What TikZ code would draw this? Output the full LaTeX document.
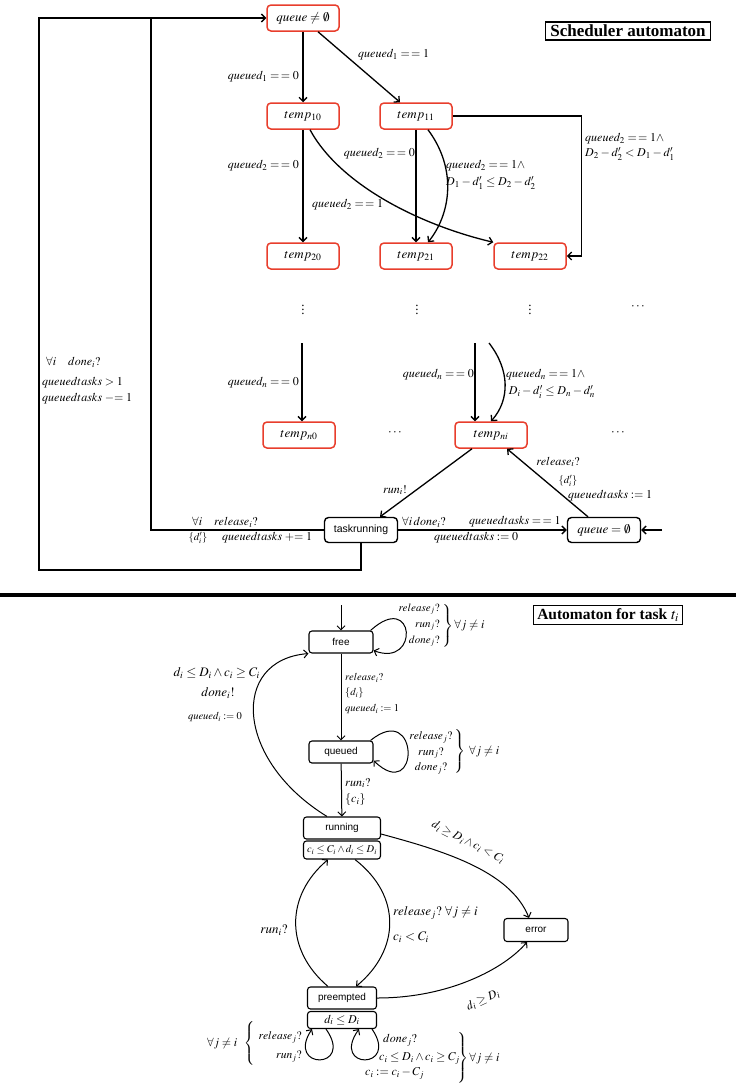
\documentclass[tikz,border=0pt]{standalone}
\usepackage{mathptmx}
\usepackage{fontspec}
\setmainfont{Liberation Serif}
\setsansfont{Liberation Sans}
\usetikzlibrary{arrows.meta}
\definecolor{tempred}{RGB}{232,62,44}

\begin{document}
\begin{tikzpicture}[x=1pt,y=-1pt,>={Straight Barb[length=4pt,width=8pt]},
  temp node/.style={draw=tempred,line width=1.5pt,rounded corners=4pt,minimum width=72pt,
    minimum height=26pt,inner sep=1pt,font=\fontsize{13}{15}\selectfont},
  sched node/.style={draw,line width=1.4pt,rounded corners=4pt,minimum width=73pt,
    minimum height=25pt,inner sep=1pt},
  state node/.style={draw,line width=1.1pt,rounded corners=3pt,minimum width=64pt,
    minimum height=22pt,inner sep=1pt,font=\sffamily\fontsize{10}{12}\selectfont},
  title node/.style={draw,line width=1.2pt,inner xsep=5pt,inner ysep=3pt},
  lbl/.style={font=\fontsize{12}{14}\selectfont,inner sep=0pt},
  small lbl/.style={font=\fontsize{10.5}{12}\selectfont,inner sep=0pt},
  big lbl/.style={font=\fontsize{13}{15}\selectfont,inner sep=0pt}]

  \useasboundingbox (0,0) rectangle (736,1090);

  % scheduler automaton
  \node[temp node] (qne) at (303,18) {$queue\neq\emptyset$};
  \node[temp node] (t10) at (303,116) {$temp_{10}$};
  \node[temp node] (t11) at (416,116) {$temp_{11}$};
  \node[temp node] (t20) at (303,256) {$temp_{20}$};
  \node[temp node] (t21) at (416,256) {$temp_{21}$};
  \node[temp node] (t22) at (530,256) {$temp_{22}$};
  \node[big lbl] (vd0) at (303,307) {$\vdots$};
  \node[big lbl] (vd1) at (417,307) {$\vdots$};
  \node[big lbl] (vd2) at (530,307) {$\vdots$};
  \node[big lbl] (hd0) at (638,307) {$\cdots$};
  \node[temp node] (tn0) at (299,435) {$temp_{n0}$};
  \node[big lbl] (hd1) at (395,433) {$\cdots$};
  \node[temp node] (tni) at (491,435) {$temp_{ni}$};
  \node[big lbl] (hd2) at (618,433) {$\cdots$};
  \node[sched node,font=\sffamily\fontsize{10.5}{12}\selectfont] (trun) at (361,530) {taskrunning};
  \node[sched node,font=\fontsize{13}{15}\selectfont] (qem) at (604,530) {$queue=\emptyset$};
  \node[title node,font=\bfseries\fontsize{17}{19}\selectfont] (stitle) at (628,31) {Scheduler automaton};

  \coordinate (sn0) at (302,343);
  \coordinate (sn1) at (475,343);
  \coordinate (sn2) at (489,343);
  \coordinate (qin) at (662,530);
  \coordinate (lpa) at (151,18);
  \coordinate (lpb) at (39,570);

  \begin{scope}[line width=1.3pt]
    \draw[->] (qne) -- (t10);
    \draw[->] ([xshift=15pt]qne.south) -- ([xshift=-16pt]t11.north);
    \draw[->] (t10) -- (t20);
    \draw[->] ([xshift=7pt]t10.south) .. controls (340,185) and (420,225) .. (t22.north west);
    \draw[->] (t11) -- (t21);
    \draw[->] ([xshift=12pt]t11.south) .. controls (458,170) and (450,215) .. ([xshift=12pt]t21.north);
    \draw[->] (t11.east) -| ([xshift=15pt]t22.east) -- (t22.east);
    \draw[->] (sn0) -- (sn0 |- tn0.north);
    \draw[->] (sn1) -- (sn1 |- tni.north);
    \draw[->] (sn2) .. controls (510,370) and (510,400) .. (tni.north);
    \draw[->] ([xshift=-19pt]tni.south) -- ([xshift=19pt]trun.north);
    \draw[->] ([xshift=-16pt]qem.north) -- ([xshift=16pt]tni.south);
    \draw[->] (trun) -- (qem);
    \draw[->] (qin) -- (qem);
    \draw (trun.west) -| (lpa);
    \draw[->] (trun.south) |- (lpb) |- (qne.west);
  \end{scope}

  \node[lbl,anchor=east] (l1) at (299,77) {$queued_1=\,=0$};
  \node[lbl,anchor=west] (l2) at (358,55) {$queued_1=\,=1$};
  \node[lbl,anchor=east] (l3) at (299,166) {$queued_2=\,=0$};
  \node[lbl,anchor=east] (l4) at (415,154) {$queued_2=\,=0$};
  \node[lbl,anchor=west,align=left,font=\fontsize{12}{17}\selectfont] (l5) at (446,175)
    {$queued_2=\,=1\wedge$\\$D_1-d'_1\leq D_2-d'_2$};
  \node[lbl,anchor=west] (l6) at (312,205) {$queued_2=\,=1$};
  \node[lbl,anchor=west,align=left,font=\fontsize{12}{15}\selectfont] (l7) at (585,147)
    {$queued_2=\,=1\wedge$\\$D_2-d'_2<D_1-d'_1$};
  \node[lbl,anchor=west] (l8) at (46,362) {$\forall i\quad done_i?$};
  \node[lbl,anchor=west] (l9) at (42,383) {$queuedtasks>1$};
  \node[lbl,anchor=west] (l10) at (42,399) {$queuedtasks\mathrel{-}=1$};
  \node[lbl,anchor=east] (l11) at (299,383) {$queued_n=\,=0$};
  \node[lbl,anchor=east] (l12) at (474,375) {$queued_n=\,=0$};
  \node[lbl,anchor=west,align=left,font=\fontsize{12}{17}\selectfont] (l13) at (506,384)
    {$queued_n=\,=1\wedge$\\$\;D_i-d'_i\leq D_n-d'_n$};
  \node[lbl] (l14) at (395,490) {$run_i!$};
  \node[lbl] (l15) at (558,462) {$release_i?$};
  \node[small lbl] (l16) at (568,481) {$\{d'_i\}$};
  \node[lbl,anchor=west] (l17) at (568,496) {$queuedtasks:=1$};
  \node[lbl,anchor=west] (l18) at (402,522) {$\forall i\,done_i?$};
  \node[lbl,anchor=west] (l19) at (469,522) {$queuedtasks=\,=1$};
  \node[lbl,anchor=west] (l20) at (434,538) {$queuedtasks:=0$};
  \node[lbl,anchor=west] (l21) at (192,522) {$\forall i\quad release_i?$};
  \node[small lbl] (l22) at (198,538) {$\{d'_i\}$};
  \node[lbl,anchor=west] (l23) at (222,538) {$queuedtasks\mathrel{+}=1$};

  \draw[line width=4pt] (0,595) -- (736,595);

  % task automaton
  \node[title node,font=\bfseries\fontsize{15.5}{18}\selectfont,inner xsep=4pt] (ttitle) at (608,615) {Automaton for task $t_i$};
  \node[state node] (free) at (341,642) {free};
  \node[state node] (queued) at (341,752) {queued};
  \node[state node,minimum width=77pt] (running) at (342,828) {running};
  \node[state node,minimum width=77pt,minimum height=18pt,font=\fontsize{10.5}{12}\selectfont]
    (runinv) at (342,850) {$c_i\leq C_i\wedge d_i\leq D_i$};
  \node[state node,minimum width=69pt] (preempted) at (342,998) {preempted};
  \node[state node,minimum width=69pt,minimum height=17pt,font=\fontsize{12}{14}\selectfont]
    (preinv) at (342,1020) {$d_i\leq D_i$};
  \node[state node,minimum height=23pt] (error) at (536,930) {error};

  \coordinate (fin) at (341,605);

  \begin{scope}[line width=1pt]
    \draw[->] (fin) -- (free);
    \draw[->] ([xshift=-3pt]free.north east) .. controls (415,590) and (420,668) .. ([yshift=3pt]free.south east);
    \draw[->] (free) -- (queued);
    \draw[->] ([xshift=-3pt]queued.north east) .. controls (420,700) and (420,805) .. ([yshift=3pt]queued.south east);
    \draw[->] (queued) -- (running);
    \draw[->] ([xshift=-15pt]running.north) .. controls (235,760) and (230,660) .. (free.south west);
    \draw[->] ([yshift=-6pt]running.east) .. controls (440,850) and (510,870) .. ([xshift=-7pt]error.north);
    \draw[->] ([xshift=-14pt]preempted.north) .. controls (285,950) and (285,896) .. ([xshift=-14pt]runinv.south);
    \draw[->] ([xshift=13pt]runinv.south) .. controls (402,896) and (400,950) .. ([xshift=14pt]preempted.north);
    \draw[->] (preempted.east) .. controls (450,998) and (505,968) .. ([xshift=-9pt]error.south);
    \draw[->] ([xshift=-16pt]preinv.south) .. controls (355,1070) and (285,1070) .. ([xshift=-30pt]preinv.south);
    \draw[->] ([xshift=30pt]preinv.south) .. controls (400,1070) and (330,1070) .. ([xshift=17pt]preinv.south);
  \end{scope}

  \node[lbl,anchor=east,align=right,font=\fontsize{11}{16}\selectfont] (fl) at (440,625)
    {$release_j?$\\$run_j?$\\$done_j?$};
  \node[lbl,anchor=west] (fb) at (441,626) {$\left.\vrule height 19pt depth 19pt width 0pt\right\}\forall j\neq i$};
  \node[lbl,align=center,font=\fontsize{11.5}{15.5}\selectfont] (ql) at (431,753)
    {$release_j?$\\$run_j?$\\$done_j?$};
  \node[lbl,anchor=west] (qb) at (453,752) {$\left.\vrule height 20pt depth 20pt width 0pt\right\}\;\forall j\neq i$};
  \node[small lbl,anchor=west] (fq1) at (345,678) {$release_i?$};
  \node[small lbl,anchor=west] (fq2) at (345,693) {$\{d_i\}$};
  \node[small lbl,anchor=west] (fq3) at (345,709) {$queued_i:=1$};
  \node[lbl,anchor=west] (qr1) at (345,783) {$run_i?$};
  \node[lbl,anchor=west] (qr2) at (345,800) {$\{c_i\}$};
  \node[big lbl,anchor=east] (rf1) at (260,673) {$d_i\leq D_i\wedge c_i\geq C_i$};
  \node[big lbl] (rf2) at (218,693) {$done_i!$};
  \node[small lbl] (rf3) at (215,717) {$queued_i:=0$};
  \node[lbl,rotate=-27] (re) at (468,842) {$d_i\geq D_i\wedge c_i<C_i$};
  \node[big lbl] (pr) at (274,930) {$run_i?$};
  \node[big lbl,anchor=west] (rp1) at (393,913) {$release_j?\ \forall j\neq i$};
  \node[big lbl,anchor=west] (rp2) at (393,937) {$c_i<C_i$};
  \node[lbl,rotate=25] (pe) at (483,1000) {$d_i\geq D_i$};
  \node[lbl,anchor=east,align=right,font=\fontsize{11.5}{19}\selectfont] (pl) at (302,1047)
    {$release_j?$\\$run_j?$};
  \node[lbl,anchor=east] (pb) at (256,1044) {$\forall j\neq i\;\;\left\{\vrule height 20pt depth 20pt width 0pt\right.$};
  \node[lbl,anchor=west] (pd1) at (383,1040) {$done_j?$};
  \node[lbl,anchor=west] (pd2) at (379,1058) {$c_i\leq D_i\wedge c_i\geq C_j$};
  \node[lbl,anchor=west] (pd3) at (365,1073) {$c_i:=c_i-C_j$};
  \node[lbl,anchor=west] (pdb) at (456,1058) {$\left.\vrule height 21pt depth 21pt width 0pt\right\}\forall j\neq i$};

\end{tikzpicture}
\end{document}
